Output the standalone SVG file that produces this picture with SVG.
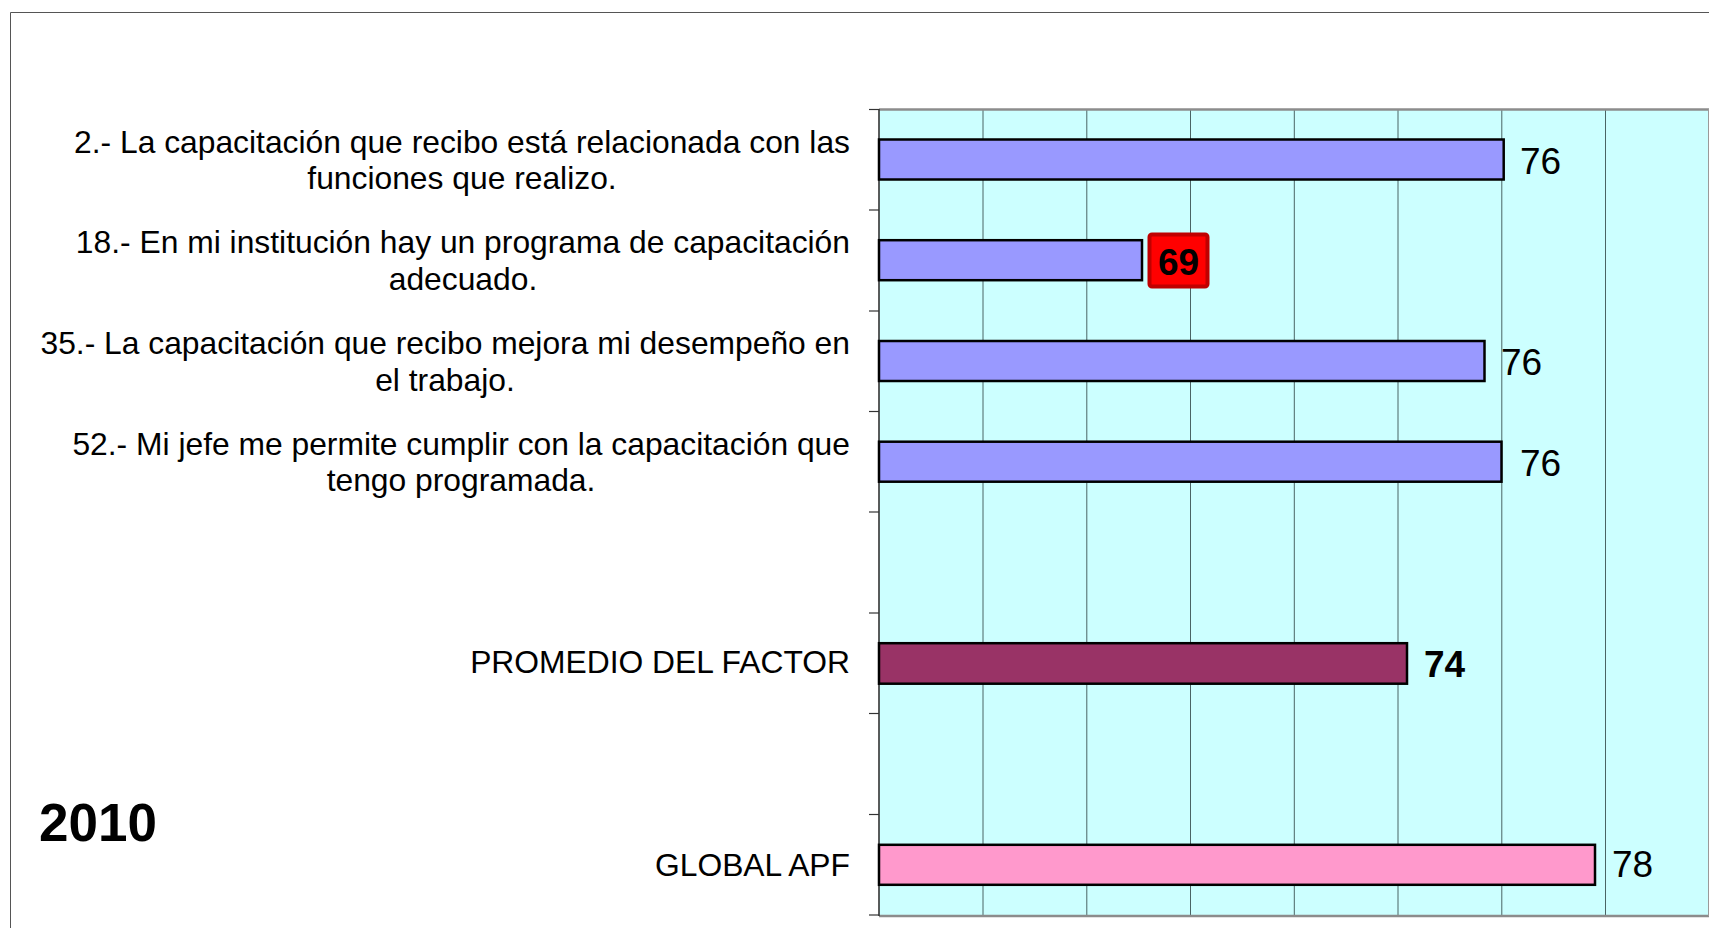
<svg xmlns="http://www.w3.org/2000/svg" width="1709" height="928" viewBox="0 0 1709 928">
<style>
  .lbl { font-family: "Liberation Sans", Arial, sans-serif; font-size: 31.8px; fill: #000; }
  .val { font-family: "Liberation Sans", Arial, sans-serif; font-size: 37px; fill: #000; }
  .valb { font-family: "Liberation Sans", Arial, sans-serif; font-size: 37px; font-weight: bold; fill: #000; }
  .bar { stroke: #000; stroke-width: 2.5; }
  .grid { stroke: #4a6464; stroke-width: 1; }
  .tick { stroke: #333; stroke-width: 1.2; }
</style>
<rect x="0" y="0" width="1709" height="928" fill="#fff"/>
<!-- outer frame -->
<path d="M10.5 928 V12.5 H1709" fill="none" stroke="#555" stroke-width="1"/>

<g id="plot">
  <rect x="879" y="109" width="830" height="806" fill="#CCFFFF"/>
  <g id="gridlines">
    <line class="grid" x1="983" y1="110" x2="983" y2="915"/>
    <line class="grid" x1="1086.8" y1="110" x2="1086.8" y2="915"/>
    <line class="grid" x1="1190.5" y1="110" x2="1190.5" y2="915"/>
    <line class="grid" x1="1294.3" y1="110" x2="1294.3" y2="915"/>
    <line class="grid" x1="1398" y1="110" x2="1398" y2="915"/>
    <line class="grid" x1="1501.8" y1="110" x2="1501.8" y2="915"/>
    <line class="grid" x1="1605.5" y1="110" x2="1605.5" y2="915"/>
  </g>
  <line x1="879" y1="109.5" x2="1709" y2="109.5" stroke="#8c8c8c" stroke-width="2.5"/>
  <line x1="879" y1="916" x2="1709" y2="916" stroke="#8c8c8c" stroke-width="2.5"/>
  <line x1="1708.5" y1="109" x2="1708.5" y2="916" stroke="#9a9a9a" stroke-width="1"/>
  <line x1="879" y1="109" x2="879" y2="916" stroke="#333" stroke-width="1.6"/>
  <g id="ticks">
    <line class="tick" x1="869" y1="109.5" x2="879" y2="109.5"/>
    <line class="tick" x1="869" y1="210" x2="879" y2="210"/>
    <line class="tick" x1="869" y1="311" x2="879" y2="311"/>
    <line class="tick" x1="869" y1="411.5" x2="879" y2="411.5"/>
    <line class="tick" x1="869" y1="512" x2="879" y2="512"/>
    <line class="tick" x1="869" y1="613" x2="879" y2="613"/>
    <line class="tick" x1="869" y1="713.5" x2="879" y2="713.5"/>
    <line class="tick" x1="869" y1="814.5" x2="879" y2="814.5"/>
    <line class="tick" x1="869" y1="915" x2="879" y2="915"/>
  </g>
</g>

<g id="item2">
  <text class="lbl" x="850" y="152.5" text-anchor="end">2.- La capacitación que recibo está relacionada con las</text>
  <text class="lbl" x="462" y="189" text-anchor="middle">funciones que realizo.</text>
  <rect class="bar" x="879" y="139.5" width="624.7" height="40" fill="#9999FF"/>
  <text class="val" x="1520" y="174">76</text>
</g>

<g id="item18">
  <text class="lbl" x="850" y="253.3" text-anchor="end">18.- En mi institución hay un programa de capacitación</text>
  <text class="lbl" x="463" y="289.8" text-anchor="middle">adecuado.</text>
  <rect class="bar" x="879" y="240.2" width="263" height="40" fill="#9999FF"/>
  <rect x="1149.5" y="234.5" width="58" height="52" rx="2.5" fill="#FF0000" stroke="#C00000" stroke-width="4"/>
  <text class="valb" x="1178.5" y="275" text-anchor="middle">69</text>
</g>

<g id="item35">
  <text class="lbl" x="850" y="354" text-anchor="end">35.- La capacitación que recibo mejora mi desempeño en</text>
  <text class="lbl" x="445" y="390.5" text-anchor="middle">el trabajo.</text>
  <rect class="bar" x="879" y="341" width="605.5" height="40" fill="#9999FF"/>
  <text class="val" x="1501" y="375">76</text>
</g>

<g id="item52">
  <text class="lbl" x="850" y="454.8" text-anchor="end">52.- Mi jefe me permite cumplir con la capacitación que</text>
  <text class="lbl" x="461" y="491.3" text-anchor="middle">tengo programada.</text>
  <rect class="bar" x="879" y="441.7" width="622.5" height="40" fill="#9999FF"/>
  <text class="val" x="1520" y="475.7">76</text>
</g>

<g id="promedio">
  <text class="lbl" x="850" y="673" text-anchor="end">PROMEDIO DEL FACTOR</text>
  <rect class="bar" x="879" y="643.2" width="528" height="40.5" fill="#993366"/>
  <text class="valb" x="1424" y="676.7">74</text>
</g>

<g id="global">
  <text class="lbl" x="850" y="875.5" text-anchor="end">GLOBAL APF</text>
  <rect class="bar" x="879" y="844.8" width="716" height="40" fill="#FF99CC"/>
  <text class="val" x="1612" y="877.3">78</text>
</g>

<g id="year">
  <text x="39" y="841" font-family="Liberation Sans, Arial, sans-serif" font-size="53" font-weight="bold" fill="#000">2010</text>
</g>
</svg>
